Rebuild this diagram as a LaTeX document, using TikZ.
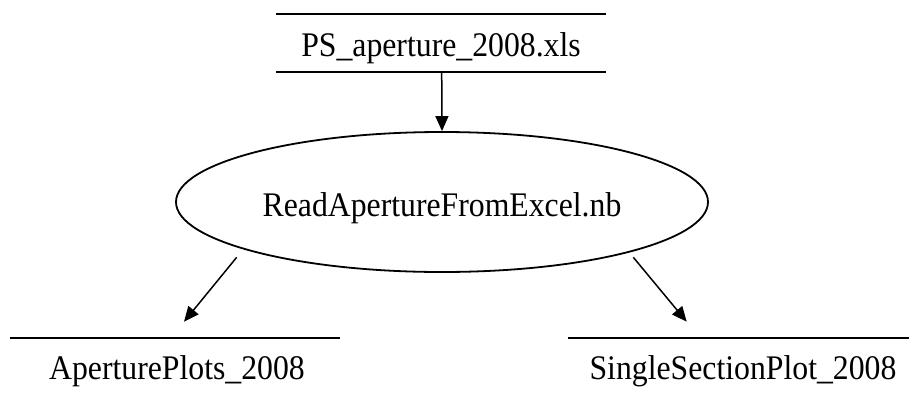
\documentclass[tikz,border=0pt]{standalone}
\usepackage{fontspec}
\setmainfont[FakeStretch=0.92]{Liberation Serif}
\usetikzlibrary{arrows.meta,shapes.geometric}
\begin{document}
\begin{tikzpicture}[x=1pt,y=-1pt,
  lbl/.style={font=\fontsize{34.5}{40}\selectfont, inner sep=0pt},
  prog/.style={ellipse, draw, line width=1.8pt, minimum width=532pt, minimum height=140pt, inner sep=0pt},
  edge/.style={line width=1.5pt, -{Triangle[length=15pt,width=13pt]}},
  rule/.style={line width=1.9pt}]
\useasboundingbox (0,0) rectangle (909,394);
% top file node: lines at y=14 and y=72
\coordinate (srcNW) at (276,14);
\coordinate (srcNE) at (606,14);
\coordinate (srcSW) at (276,72);
\coordinate (srcSE) at (606,72);
\node[lbl, anchor=base] (src) at (441,56) {PS\_aperture\_2008.xls};
\draw[rule] (srcNW) -- (srcNE);
\draw[rule] (srcSW) -- (srcSE);
% program
\node[prog] (nb) at (442,202) {};
\node[lbl, anchor=base] (nbt) at (442,216.5) {ReadApertureFromExcel.nb};
% outputs
\node[lbl, anchor=base] (ap) at (177,379.5) {AperturePlots\_2008};
\node[lbl, anchor=base] (ss) at (743,379.5) {SingleSectionPlot\_2008};
\coordinate (apW) at (10,338);
\coordinate (apE) at (340,338);
\coordinate (ssW) at (568,338);
\coordinate (ssE) at (909,338);
\draw[rule] (apW) -- (apE);
\draw[rule] (ssW) -- (ssE);
% edges
\coordinate (a1) at (236.7,257.3);
\coordinate (a2) at (184,321.7);
\coordinate (b1) at (633.3,257.3);
\coordinate (b2) at (686.7,321.7);
\draw[edge] (441.7,72) -- (nb.north);
\draw[edge] (a1) -- (a2);
\draw[edge] (b1) -- (b2);
\end{tikzpicture}
\end{document}
